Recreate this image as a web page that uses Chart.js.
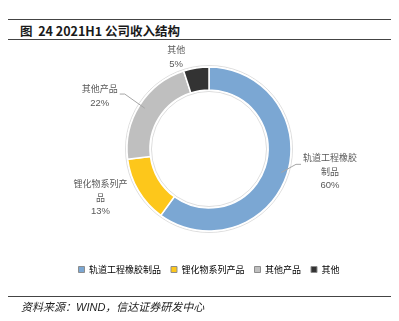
<!DOCTYPE html>
<html>
<head>
<meta charset="utf-8">
<script src="https://cdn.jsdelivr.net/npm/chart.js@4.4.0/dist/chart.umd.min.js"></script>
<style>
  body { margin: 0; background: #fff; width: 399px; height: 321px; position: relative; overflow: hidden; }
  .rule { position: absolute; left: 8px; width: 383px; height: 1px; background: #444; }
  #title { position: absolute; left: 20px; top: 21px; font: bold 12.5px "Noto Sans CJK SC", "Liberation Sans", sans-serif; color: #1a1a1a; }
  #source { position: absolute; left: 21px; top: 298px; font: italic 11px "Liberation Sans", "Noto Sans CJK SC", sans-serif; color: #222; }
  canvas { position: absolute; left: 0; top: 0; }
</style>
</head>
<body>
<div class="rule" style="top:19px"></div>
<div id="title">图&nbsp; 24 2021H1 公司收入结构</div>
<div class="rule" style="top:39px"></div>
<canvas id="chart" width="399" height="321"></canvas>
<div class="rule" style="top:296px"></div>
<div id="source">资料来源：WIND，信达证券研发中心</div>
<script>
const categories = ['轨道工程橡胶制品', '锂化物系列产品', '其他产品', '其他'];
const shares = [60, 13, 22, 5];
const colors = ['#7BA7D3', '#FDC71B', '#BFBFBF', '#333333'];

// how each data label is wrapped, and where it sits relative to the slice's outer midpoint
const labelLines = [['轨道工程橡胶', '制品'], ['锂化物系列产', '品'], ['其他产品'], ['其他']];
const labelShift = [[43, -3], [-38, 7], [-40, -9], [-20, -11]];
const hasLeader = [true, false, true, false];

const pieLabels = {
  id: 'pieLabels',
  beforeDatasetsDraw(chart) {
    const arc = chart.getDatasetMeta(0).data[0];
    const { x, y, outerRadius, innerRadius } = arc.getProps(['x', 'y', 'outerRadius', 'innerRadius'], true);
    const ctx = chart.ctx;
    ctx.save();
    ctx.strokeStyle = '#d6d6d6';
    ctx.lineWidth = 0.8;
    ctx.beginPath(); ctx.arc(x, y, outerRadius + 1.5, 0, Math.PI * 2); ctx.stroke();
    ctx.beginPath(); ctx.arc(x, y, innerRadius - 1.5, 0, Math.PI * 2); ctx.stroke();
    ctx.restore();
  },
  afterDatasetsDraw(chart) {
    const ctx = chart.ctx;
    const meta = chart.getDatasetMeta(0);
    ctx.save();
    ctx.textAlign = 'center';
    ctx.textBaseline = 'middle';
    meta.data.forEach((arc, i) => {
      const p = arc.getProps(['x', 'y', 'startAngle', 'endAngle', 'outerRadius', 'innerRadius'], true);
      const mid = (p.startAngle + p.endAngle) / 2;
      const ox = p.x + Math.cos(mid) * p.outerRadius;
      const oy = p.y + Math.sin(mid) * p.outerRadius;
      const lx = ox + labelShift[i][0];
      const ly = oy + labelShift[i][1];
      const lines = labelLines[i].concat([shares[i] + '%']);
      const top = ly - (lines.length - 1) * 14 / 2;
      ctx.fillStyle = '#595959';
      lines.forEach((t, k) => {
        ctx.font = k === lines.length - 1 ? '9.5px "Liberation Sans", sans-serif' : '9px "Noto Sans CJK SC", sans-serif';
        ctx.fillText(t, lx, top + k * 14);
      });
      if (hasLeader[i]) {
        const rr = p.outerRadius - 6;
        const sx = p.x + Math.cos(mid) * rr;
        const sy = p.y + Math.sin(mid) * rr;
        ctx.font = '9px "Noto Sans CJK SC", sans-serif';
        const half = ctx.measureText(labelLines[i][0]).width / 2;
        const dir = lx > p.x ? -1 : 1;
        const ex = lx + dir * (half + 2);
        const ey = lines.length > 2 ? top + 7 : top + 5;
        ctx.strokeStyle = '#a6a6a6';
        ctx.lineWidth = 1;
        ctx.beginPath();
        ctx.moveTo(sx, sy);
        ctx.lineTo(ex + dir * 5, ey);
        ctx.lineTo(ex, ey);
        ctx.stroke();
      }
    });
    ctx.restore();
  }
};

new Chart(document.getElementById('chart'), {
  type: 'doughnut',
  data: {
    labels: categories,
    datasets: [{
      data: shares,
      backgroundColor: colors,
      borderColor: '#ffffff',
      borderWidth: 1.5,
      radius: 82,
      cutout: '72%'
    }]
  },
  options: {
    responsive: false,
    animation: false,
    layout: { padding: { top: 43, left: 19, right: 0, bottom: 37 } },
    plugins: {
      tooltip: { enabled: false },
      legend: {
        position: 'bottom',
        labels: {
          boxWidth: 6,
          boxHeight: 6,
          padding: 10,
          color: '#595959',
          font: { size: 9, family: '"Noto Sans CJK SC", sans-serif' },
          generateLabels(chart) {
            return categories.map((c, i) => ({
              text: c,
              fillStyle: colors[i],
              strokeStyle: '#8c8c8c',
              lineWidth: 1,
              index: i
            }));
          }
        }
      }
    }
  },
  plugins: [pieLabels]
});
</script>
</body>
</html>
